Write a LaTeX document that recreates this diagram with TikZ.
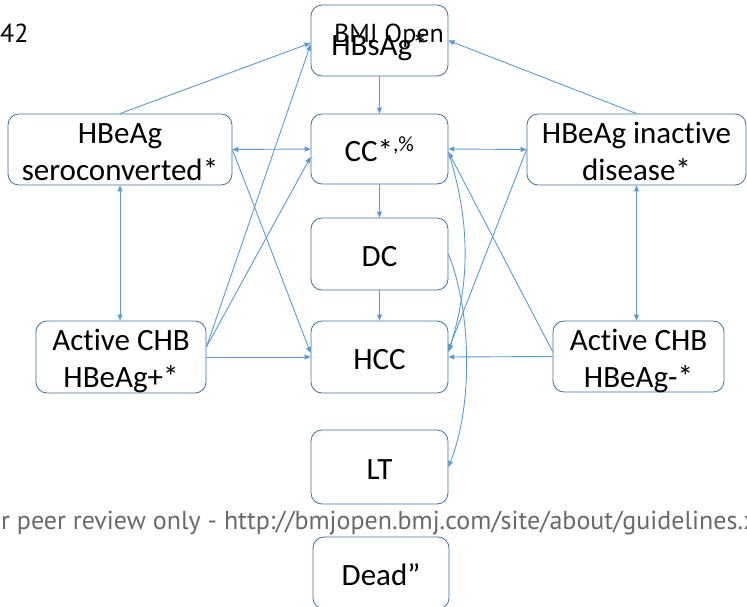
\documentclass[tikz,border=0pt]{standalone}
\usepackage{fontspec}
\setmainfont{Carlito}[Ligatures=NoCommon]
\newfontfamily\hdrfont{PT Sans}
\usetikzlibrary{arrows.meta}
\definecolor{lineblue}{HTML}{5B9BD5}
\definecolor{boxblue}{HTML}{41719C}
\definecolor{footgray}{HTML}{6A6A6A}
\tikzset{
  box/.style={draw=boxblue, line width=0.8pt, rounded corners=11pt, fill=white,
    font=\fontsize{31}{37}\selectfont, align=center, text height=24pt,
    text depth=0pt, inner sep=0pt},
  twoline/.style={text height=61pt},
  tip/.tip={Triangle[length=6pt,width=5pt]},
  conn/.style={draw=lineblue, line width=0.9pt, -tip},
  dconn/.style={draw=lineblue, line width=0.9pt, tip-tip},
  hdr/.style={inner sep=0pt, font=\hdrfont\fontsize{26}{26}\selectfont},
}
\begin{document}
\begin{tikzpicture}[x=1pt, y=-1pt]
\useasboundingbox (0,0) rectangle (747,607);
% boxes
\node[box, minimum width=137pt, minimum height=71pt, text height=30pt] (hbs) at (379.5,40.5) {HBsAg*};
\node[box, minimum width=137pt, minimum height=70pt] (cc) at (379.5,149) {CC*\textsuperscript{,\%}};
\node[box, twoline, minimum width=224pt, minimum height=71pt] (sero) at (120,149.5) {HBeAg\\seroconverted*};
\node[box, twoline, minimum width=219pt, minimum height=71pt] (inact) at (636.5,149.5) {HBeAg inactive\\disease*};
\node[box, minimum width=137pt, minimum height=72pt] (dc) at (379.5,254) {DC};
\node[box, twoline, minimum width=170pt, minimum height=72pt] (actp) at (121,357) {Active CHB\\HBeAg+*};
\node[box, minimum width=137pt, minimum height=72pt] (hcc) at (379.5,357) {HCC};
\node[box, twoline, minimum width=171pt, minimum height=71pt] (actn) at (638.5,356.5) {Active CHB\\HBeAg-*};
\node[box, minimum width=137pt, minimum height=74pt] (lt) at (379.5,467) {LT};
\node[box, minimum width=136pt, minimum height=72pt] (dead) at (381,573) {Dead”};
% header / footer texts
\node[hdr, anchor=base west] (pg) at (0,43) {42};
\node[hdr, anchor=base] (bmj) at (389,43) {BMJ Open};
\node[hdr, anchor=base west, text=footgray] (foot) at (1,529)
  {r peer review only - http://bmjopen.bmj.com/site/about/guidelines.x};
% connectors
\draw[conn] (hbs.south) -- (cc.north);
\draw[conn] (cc.south) -- (dc.north);
\draw[conn] (dc.south) -- (hcc.north);
\draw[conn] (sero.north) -- ([yshift=-2.5pt]hbs.west);
\draw[conn] (inact.north) -- (hbs.east);
\draw[dconn] (sero.east) -- (cc.west);
\draw[dconn] (cc.east) -- (inact.west);
\draw[dconn] (sero.south) -- (sero.south |- actp.north);
\draw[dconn] (inact.south) -- (inact.south |- actn.north);
\draw[conn] ([yshift=10pt]actp.east) -- ([yshift=-4pt]hbs.west);
\draw[conn] ([yshift=10pt]actp.east) -- ([yshift=-8pt]cc.west);
\draw[conn] (sero.east) -- ([yshift=4pt]hcc.west);
\draw[conn] (actp.east) -- (hcc.west);
\draw[conn] (actn.west) -- (hcc.east);
\draw[conn] ([yshift=5pt]actn.west) -- ([yshift=-3pt]cc.east);
\draw[conn] (inact.west) -- ([yshift=7pt]hcc.east);
\draw[conn] ([yshift=-3pt]cc.east) .. controls +(22,70) and +(22,-70) .. ([yshift=5pt]hcc.east);
\draw[conn] (dc.east) .. controls +(24,60) and +(24,-60) .. (lt.east);
\end{tikzpicture}
\end{document}
